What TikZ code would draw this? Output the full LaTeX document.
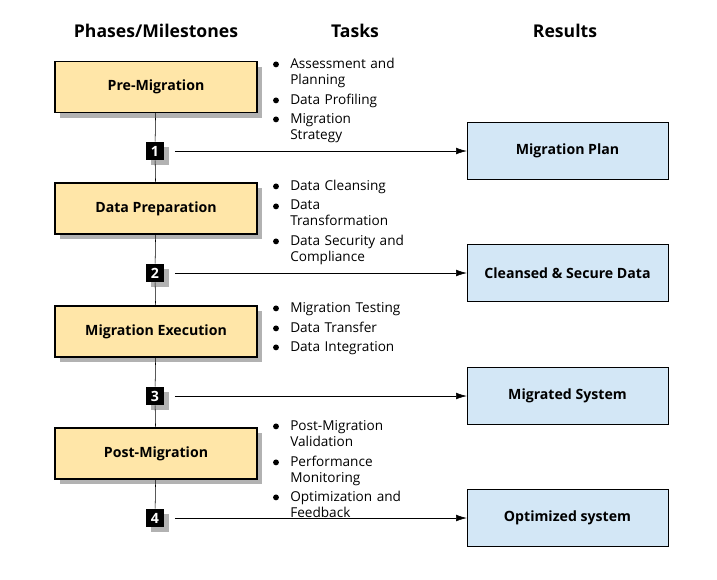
\documentclass[tikz,border=0pt]{standalone}
\usepackage{fontspec}
\setmainfont{Open Sans}
\usetikzlibrary{positioning, shadows, arrows.meta}

\definecolor{phasefill}{HTML}{FFE6A8}
\definecolor{resultfill}{HTML}{D3E7F6}

\tikzset{
  phase/.style={draw, thick, fill=phasefill, minimum width=151.5pt, minimum height=38.25pt,
    font=\bfseries\fontsize{10.6}{12}\selectfont,
    drop shadow={shadow xshift=4pt, shadow yshift=-4pt, fill=black!30, opacity=1}},
  result/.style={draw, fill=resultfill, minimum width=150.75pt, minimum height=42.75pt,
    font=\bfseries\fontsize{10.6}{12}\selectfont},
  milestone/.style={fill=black, text=white, minimum size=13.5pt, inner sep=0pt,
    font=\bfseries\fontsize{10.6}{12}\selectfont,
    drop shadow={shadow xshift=4pt, shadow yshift=-4pt, fill=black!30, opacity=1}},
  task/.style={anchor=north west, inner sep=0pt, text width=110pt, align=left,
    font=\fontsize{10.2}{12}\selectfont},
  header/.style={font=\bfseries\fontsize{13.2}{15}\selectfont},
  flow/.style={-{Latex[length=8pt,width=5pt]}, shorten <=8pt}
}

\begin{document}
\begin{tikzpicture}[x=0.75pt, y=-0.75pt]
  \useasboundingbox (0,0) rectangle (717,579);

  % Column headers
  \node[header] (hphase) at (156,31) {Phases/Milestones};
  \node[header] (htask) at (355,31) {Tasks};
  \node[header] (hres) at (565,31) {Results};

  % Phases
  \node[phase] (pre) at (156,87) {Pre-Migration};
  \node[phase] (prep) at (156,208.5) {Data Preparation};
  \node[phase] (exec) at (156,331.5) {Migration Execution};
  \node[phase] (post) at (156,453.5) {Post-Migration};

  % Milestones
  \node[milestone] (m1) at (155,151) {1};
  \node[milestone] (m2) at (155,273) {2};
  \node[milestone] (m3) at (155,396) {3};
  \node[milestone] (m4) at (155,518) {4};

  % Results
  \node[result] (plan) at (567.5,151) {Migration Plan};
  \node[result] (clean) at (567.5,273) {Cleansed \& Secure Data};
  \node[result] (migr) at (567.5,396) {Migrated System};
  \node[result] (opt) at (567.5,518) {Optimized system};

  % Timeline
  \draw (pre) -- (m1);
  \draw (m1) -- (prep);
  \draw (prep) -- (m2);
  \draw (m2) -- (exec);
  \draw (exec) -- (m3);
  \draw (m3) -- (post);
  \draw (post) -- (m4);

  % Milestones to results
  \draw[flow] (m1) -- (plan);
  \draw[flow] (m2) -- (clean);
  \draw[flow] (m3) -- (migr);
  \draw[flow] (m4) -- (opt);

  % Tasks
  \node[task] (t1a) at (290,58) {Assessment and\\Planning};
  \node[task] (t1b) at (290,94) {Data Profiling};
  \node[task] (t1c) at (290,113) {Migration\\Strategy};

  \node[task] (t2a) at (290,180) {Data Cleansing};
  \node[task] (t2b) at (290,200) {Data\\Transformation};
  \node[task] (t2c) at (290,235) {Data Security and\\Compliance};

  \node[task] (t3a) at (290,302) {Migration Testing};
  \node[task] (t3b) at (290,322) {Data Transfer};
  \node[task] (t3c) at (290,341) {Data Integration};

  \node[task] (t4a) at (290,420) {Post-Migration\\Validation};
  \node[task] (t4b) at (290,456) {Performance\\Monitoring};
  \node[task] (t4c) at (290,491) {Optimization and\\Feedback};

  % Bullets
  \foreach \t in {t1a,t1b,t1c,t2a,t2b,t2c,t3a,t3b,t3c,t4a,t4b,t4c}
    \fill ([xshift=-10.5pt, yshift=-4.8pt]\t.north west) circle (2.2pt);
\end{tikzpicture}
\end{document}
